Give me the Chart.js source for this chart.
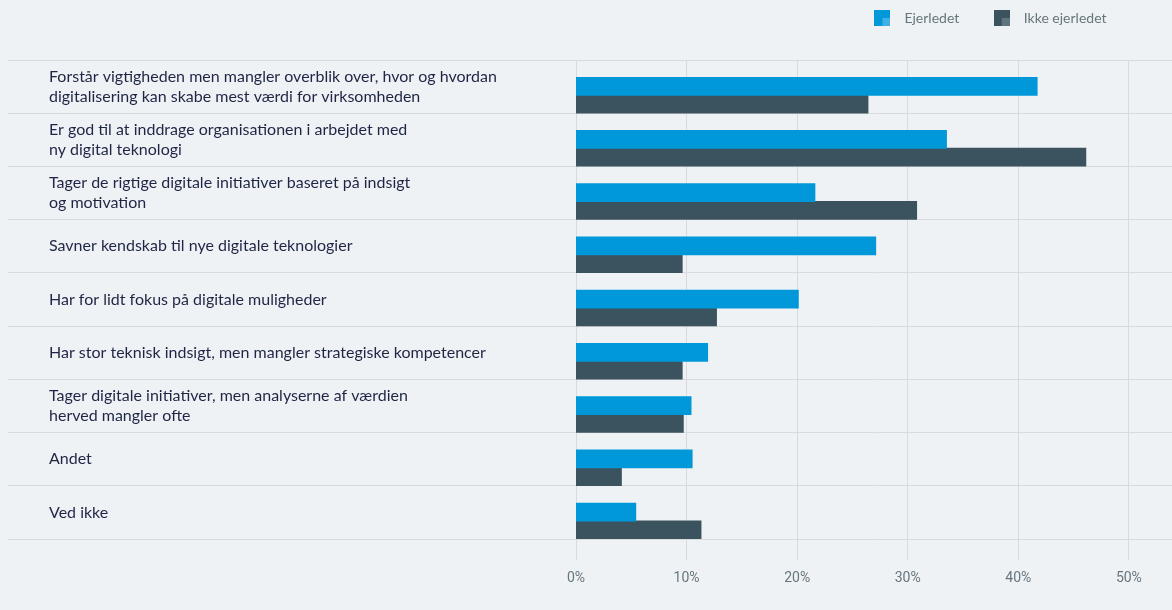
<!DOCTYPE html>
<html lang="da">
<head>
<meta charset="utf-8">
<title>Digitalisering – ejerledet vs. ikke ejerledet</title>
<script src="https://cdn.jsdelivr.net/npm/chart.js@4/dist/chart.umd.min.js"></script>
<style>
  html, body { margin: 0; padding: 0; background: #eff2f5; }
  #wrap { position: relative; width: 1172px; height: 610px; }
</style>
</head>
<body>
<div id="wrap"><canvas id="chart" width="1172" height="610"></canvas></div>
<script>
// Svarkategorier (to-linjede etiketter som arrays)
const categories = [
  ['Forstår vigtigheden men mangler overblik over, hvor og hvordan', 'digitalisering kan skabe mest værdi for virksomheden'],
  ['Er god til at inddrage organisationen i arbejdet med', 'ny digital teknologi'],
  ['Tager de rigtige digitale initiativer baseret på indsigt', 'og motivation'],
  'Savner kendskab til nye digitale teknologier',
  'Har for lidt fokus på digitale muligheder',
  'Har stor teknisk indsigt, men mangler strategiske kompetencer',
  ['Tager digitale initiativer, men analyserne af værdien', 'herved mangler ofte'],
  'Andet',
  'Ved ikke'
];

// Andel (%) pr. gruppe
const ejerledet      = [41.7, 33.5, 21.6, 27.1, 20.1, 11.9, 10.4, 10.5, 5.4];
const ikkeEjerledet  = [26.4, 46.1, 30.8, 9.6, 12.7, 9.6, 9.7, 4.1, 11.3];

const seriesNames = ['Ejerledet', 'Ikke ejerledet'];
const xTicks = [0, 10, 20, 30, 40, 50];

const BLUE = '#0098d9', BLUE_LIGHT = '#3eb0e6';
const DARK = '#3b535e', DARK_LIGHT = '#5f757e';
const GRID = '#d8dadd';

// Legend icon: square with a lighter inner square in the lower right corner
function legendIcon(main, light) {
  const c = document.createElement('canvas');
  c.width = 16; c.height = 16;
  const g = c.getContext('2d');
  g.fillStyle = main; g.fillRect(0, 0, 16, 16);
  g.fillStyle = light; g.fillRect(8, 8, 8, 8);
  return c;
}
const icons = [legendIcon(BLUE, BLUE_LIGHT), legendIcon(DARK, DARK_LIGHT)];

// Bars sit on a numeric index axis, so each row is its index
const toPoints = arr => arr.map((v, i) => ({ x: v, y: i }));

const legendTweak = {
  id: 'legendTweak',
  beforeInit(chart) {
    const lg = chart.legend;
    if (!lg) return;
    const fit = lg.fit;
    lg.fit = function () {
      fit.call(this);
      this.height = 76.5;
      if (this.lineWidths && this.lineWidths.length) this.lineWidths[0] += 38;
    };
  }
};

const LABEL_RIGHT = 576;

new Chart(document.getElementById('chart'), {
  type: 'bar',
  data: {
    labels: categories,
    datasets: [
      { label: seriesNames[0], data: toPoints(ejerledet), backgroundColor: BLUE, yAxisID: 'y' },
      { label: seriesNames[1], data: toPoints(ikkeEjerledet), backgroundColor: DARK, yAxisID: 'y' }
    ]
  },
  plugins: [legendTweak],
  options: {
    indexAxis: 'y',
    responsive: false,
    animation: false,
    devicePixelRatio: 1,
    layout: { padding: { top: -16.5, left: 49, right: 0, bottom: 0 } },
    datasets: { bar: { categoryPercentage: 0.667, barPercentage: 1, inflateAmount: 0.5 } },
    scales: {
      y: {
        type: 'linear',
        display: false,
        reverse: true,
        offset: false,
        grid: { offset: false },
        bounds: 'data',
        min: -0.66,
        max: 8.34,
        ticks: { stepSize: 1, includeBounds: false }
      },
      yCat: {
        type: 'category',
        position: 'left',
        offset: true,
        grid: { offset: true, color: GRID, lineWidth: 1, tickLength: LABEL_RIGHT - 8, tickColor: GRID },
        border: { color: GRID },
        ticks: {
          crossAlign: 'far',
          color: '#1f2545',
          font: { family: 'Lato', size: 16, lineHeight: 1.25 }
        },
        afterFit(scale) { scale.width = LABEL_RIGHT - 49; }
      },
      x: {
        type: 'linear',
        position: 'bottom',
        min: 0,
        max: 53.9,
        afterBuildTicks(scale) { scale.ticks = xTicks.map(v => ({ value: v })); },
        grid: { color: GRID, lineWidth: 1, tickLength: 21, tickColor: GRID },
        border: { color: GRID },
        ticks: {
          padding: 10,
          color: '#66757e',
          font: { family: 'Roboto', size: 14 },
          callback: v => v + '%'
        },
        afterFit(scale) { scale.height = 71; }
      }
    },
    plugins: {
      tooltip: { enabled: false },
      legend: {
        position: 'top',
        align: 'end',
        labels: {
          usePointStyle: true,
          pointStyleWidth: 30,
          padding: 27.5,
          color: '#66757e',
          font: { family: 'Lato', size: 14 },
          generateLabels(chart) {
            const items = Chart.defaults.plugins.legend.labels.generateLabels(chart);
            items.forEach((it, i) => { it.pointStyle = icons[i]; it.fontColor = '#66757e'; });
            return items;
          }
        }
      }
    }
  }
});
</script>
</body>
</html>
